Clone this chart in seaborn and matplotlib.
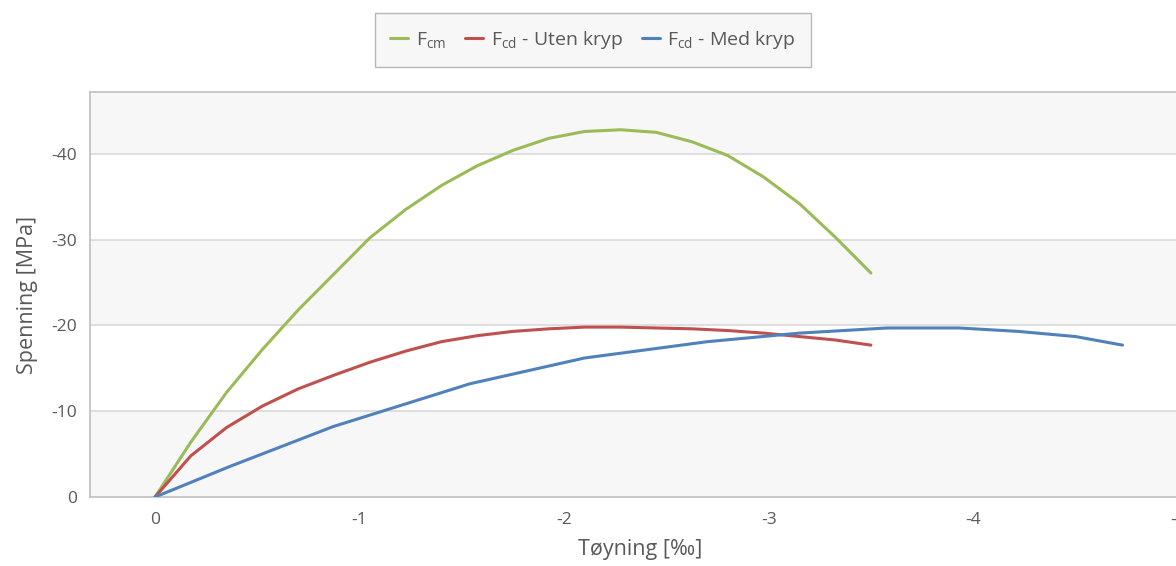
import pandas as pd
import seaborn as sns
import matplotlib.pyplot as plt
from matplotlib.ticker import MultipleLocator

# Strain [per mille] and stress [MPa]
strain_fcm = [0, -0.175, -0.35, -0.525, -0.7, -0.875, -1.05, -1.225, -1.4, -1.575, -1.75,
              -1.925, -2.1, -2.275, -2.45, -2.625, -2.8, -2.975, -3.15, -3.325, -3.5]
stress_fcm = [0, -6.4, -12.2, -17.2, -21.8, -26.0, -30.2, -33.5, -36.3, -38.6, -40.4,
              -41.8, -42.6, -42.8, -42.5, -41.4, -39.8, -37.3, -34.2, -30.3, -26.1]

strain_uten = strain_fcm
stress_uten = [0, -4.8, -8.1, -10.6, -12.6, -14.2, -15.7, -17.0, -18.1, -18.8, -19.3,
               -19.6, -19.8, -19.8, -19.7, -19.6, -19.4, -19.1, -18.7, -18.3, -17.7]

strain_med = [0, -0.37, -0.87, -1.54, -2.10, -2.70, -3.15, -3.58, -3.93, -4.22, -4.50, -4.73]
stress_med = [0, -3.6, -8.2, -13.2, -16.2, -18.1, -19.1, -19.7, -19.7, -19.3, -18.7, -17.7]

labels = [r'$\mathregular{F_{cm}}$',
          r'$\mathregular{F_{cd}}$ - Uten kryp',
          r'$\mathregular{F_{cd}}$ - Med kryp']
colors = ['#9bbb59', '#c0504d', '#4f81bd']

df = pd.concat([
    pd.DataFrame({'strain': strain_fcm, 'stress': stress_fcm, 'serie': labels[0]}),
    pd.DataFrame({'strain': strain_uten, 'stress': stress_uten, 'serie': labels[1]}),
    pd.DataFrame({'strain': strain_med, 'stress': stress_med, 'serie': labels[2]}),
], ignore_index=True)

sns.set_style('white')
plt.rcParams['font.family'] = ['Open Sans', 'DejaVu Sans']
plt.rcParams['mathtext.fontset'] = 'custom'
plt.rcParams['mathtext.rm'] = 'Open Sans'
plt.rcParams['axes.unicode_minus'] = False
text_col = '#595959'
axis_col = '#bfbfbf'

fig = plt.figure(figsize=(11.76, 5.66), dpi=100)
ax = fig.add_axes([90 / 1176, 69 / 566, 1100 / 1176, 405 / 566])

# alternating bands
ymin = -47.2
for lo, hi in [(0, -10), (-20, -30), (-40, ymin)]:
    ax.axhspan(lo, hi, color='#f7f7f7', zorder=0, lw=0)
for g in [-10, -20, -30, -40]:
    ax.axhline(g, color='#d9d9d9', lw=1.2, zorder=1)

sns.lineplot(data=df, x='strain', y='stress', hue='serie', palette=colors,
             sort=False, estimator=None, lw=2.2, ax=ax, zorder=3)

ax.set_xlim(0.318, -5.06)
ax.set_ylim(0, ymin)
ax.xaxis.set_major_locator(MultipleLocator(1))
ax.xaxis.set_minor_locator(MultipleLocator(0.2))
ax.yaxis.set_major_locator(MultipleLocator(10))
ax.yaxis.set_minor_locator(MultipleLocator(2))
ax.tick_params(which='major', length=6, width=1, color=axis_col, labelsize=12.5,
               labelcolor=text_col)
ax.tick_params(which='minor', length=4, width=1, color=axis_col)
ax.tick_params(axis='x', pad=5)
ax.tick_params(axis='y', pad=3)
for s in ax.spines.values():
    s.set_color(axis_col)
    s.set_linewidth(1.2)

ax.set_xlabel('Tøyning [‰]', fontsize=15.5, color=text_col, labelpad=8)
ax.set_ylabel('Spenning [MPa]', fontsize=15.5, color=text_col, labelpad=10)

ax.legend_.remove()
handles, lbls = ax.get_legend_handles_labels()
leg = fig.legend(handles, lbls, loc='center', bbox_to_anchor=(593 / 1176, 1 - 40 / 566),
                 ncol=3, frameon=True, fancybox=False, fontsize=14,
                 handlelength=0.9, handletextpad=0.4, columnspacing=1.0,
                 borderpad=0.8, labelcolor=text_col)
leg.get_frame().set_facecolor('#f5f5f5')
leg.get_frame().set_edgecolor('#a6a6a6')
leg.get_frame().set_linewidth(1.0)

fig.savefig('out.png', dpi=100)
